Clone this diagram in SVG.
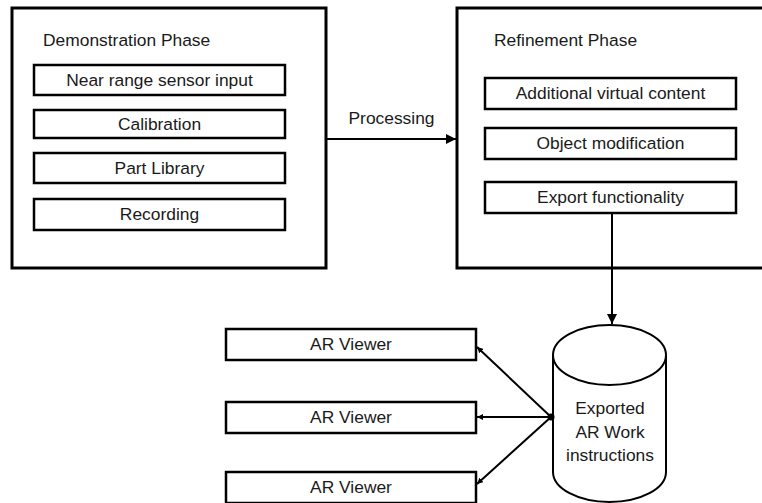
<svg xmlns="http://www.w3.org/2000/svg" width="762" height="503" viewBox="0 0 762 503">
<defs>
<style>
.outer{fill:#fff;stroke:#000;stroke-width:3}
.inner{fill:#fff;stroke:#000;stroke-width:2.5}
.t{font-family:"Liberation Sans",Arial,sans-serif;font-size:17.4px;fill:#1a1a1a}
.c{text-anchor:middle}
.conn{stroke:#000;stroke-width:2;fill:none}
</style>
<marker id="ah" viewBox="0 0 10 10" refX="10" refY="5" markerWidth="5" markerHeight="5" orient="auto" markerUnits="strokeWidth">
<path d="M0,0 L10,5 L0,10 Z" fill="#000"/>
</marker>
<marker id="sm" viewBox="0 0 10 10" refX="10" refY="5" markerWidth="3" markerHeight="3" orient="auto" markerUnits="strokeWidth">
<path d="M0,0 L10,5 L0,10 Z" fill="#000"/>
</marker>
</defs>
<rect width="762" height="503" fill="#fff"/>
<g id="demonstration">
<rect class="outer" x="12" y="8" width="314" height="260"/>
<text class="t" x="43" y="46">Demonstration Phase</text>
<g id="near-range"><rect class="inner" x="34" y="65" width="251" height="30"/><text class="t c" x="159.5" y="86">Near range sensor input</text></g>
<g id="calibration"><rect class="inner" x="34" y="110" width="251" height="28"/><text class="t c" x="159.5" y="130">Calibration</text></g>
<g id="part-library"><rect class="inner" x="34" y="153" width="251" height="30"/><text class="t c" x="159.5" y="174">Part Library</text></g>
<g id="recording"><rect class="inner" x="34" y="199" width="251" height="31"/><text class="t c" x="159.5" y="220">Recording</text></g>
</g>
<g id="refinement">
<rect class="outer" x="457" y="8" width="320" height="260"/>
<text class="t" x="494" y="46">Refinement Phase</text>
<g id="additional"><rect class="inner" x="485" y="78" width="251" height="31"/><text class="t c" x="610.5" y="99">Additional virtual content</text></g>
<g id="object-mod"><rect class="inner" x="485" y="128" width="251" height="31"/><text class="t c" x="610.5" y="149">Object modification</text></g>
<g id="export"><rect class="inner" x="485" y="182" width="251" height="31"/><text class="t c" x="610.5" y="203">Export functionality</text></g>
</g>
<g id="viewer1"><rect class="inner" x="226" y="329" width="250" height="31"/><text class="t c" x="351" y="350">AR Viewer</text></g>
<g id="viewer2"><rect class="inner" x="226" y="402" width="250" height="31"/><text class="t c" x="351" y="423">AR Viewer</text></g>
<g id="viewer3"><rect class="inner" x="226" y="472" width="250" height="31"/><text class="t c" x="351" y="493">AR Viewer</text></g>
<g id="database">
<path d="M553,355 A56.5,30 0 0 1 666,355 L666,472 A56.5,30 0 0 1 553,472 Z" fill="#fff" stroke="#000" stroke-width="2"/>
<path d="M553,355 A56.5,30 0 0 0 666,355" fill="none" stroke="#000" stroke-width="2"/>
<text class="t c" x="610" y="414">Exported</text>
<text class="t c" x="610" y="438">AR Work</text>
<text class="t c" x="610" y="461">instructions</text>
</g>
<g id="connectors">
<line class="conn" x1="326" y1="139" x2="456" y2="139" marker-end="url(#ah)"/>
<text class="t c" x="391.5" y="124">Processing</text>
<line class="conn" x1="612" y1="213" x2="612" y2="324" marker-end="url(#ah)"/>
<line class="conn" x1="551" y1="417" x2="477" y2="347" marker-end="url(#sm)"/>
<line class="conn" x1="551" y1="417" x2="477" y2="417" marker-end="url(#sm)"/>
<line class="conn" x1="551" y1="417" x2="477" y2="484" marker-end="url(#sm)"/>
<circle cx="551" cy="417" r="3.5" fill="#000"/>
</g>
</svg>
